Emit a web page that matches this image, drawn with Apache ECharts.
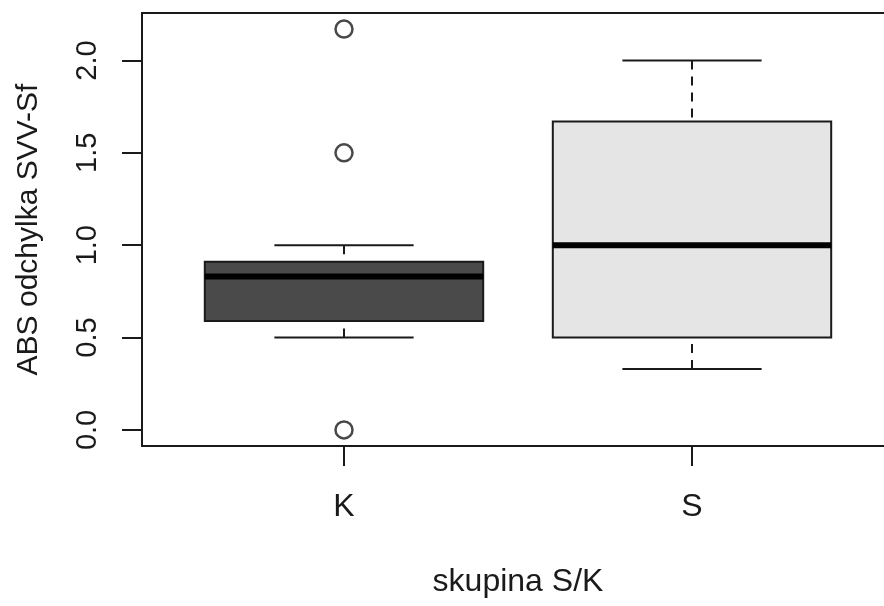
<!DOCTYPE html>
<html>
<head>
<meta charset="utf-8">
<script src="https://cdn.jsdelivr.net/npm/echarts@6/dist/echarts.min.js"></script>
<style>
  html, body { margin: 0; padding: 0; background: #fff; }
  #chart { width: 884px; height: 606px; }
</style>
</head>
<body>
<div id="chart"></div>
<script>
// groups and five-number summaries
const categories = ["K", "S"];
const lowWhisker = [0.5, 0.33];
const q1 = [0.59, 0.5];
const median = [0.83, 1.0];
const q3 = [0.91, 1.67];
const highWhisker = [1.0, 2.0];

// outlying points
const outlierGroup = ["K", "K", "K"];
const outlierValues = [2.17, 1.5, 0.0];

// y tick labels
const yTicks = [0, 0.5, 1, 1.5, 2];

const boxFills = ["#4a4a4a", "#e5e5e5"];
const ink = "#1a1a1a";
const font = "'Liberation Sans', Arial, Helvetica, sans-serif";

const chart = echarts.init(document.getElementById("chart"));

const boxData = categories.map((c, i) => [
  i, lowWhisker[i], q1[i], median[i], q3[i], highWhisker[i],
]);
const outlierData = outlierGroup.map((g, i) => [g, outlierValues[i]]);

chart.setOption({
  animation: false,
  backgroundColor: "#fff",
  grid: [
    {
      // data area
      left: 170,
      right: 18,
      top: 13,
      bottom: 160,
      outerBoundsMode: "none",
    },
    {
      // plot frame (right side runs off the picture)
      left: 142,
      right: -12,
      top: 13,
      bottom: 160,
      show: true,
      borderColor: ink,
      borderWidth: 2,
      backgroundColor: "transparent",
      outerBoundsMode: "none",
    },
  ],
  xAxis: {
    type: "category",
    gridIndex: 0,
    data: categories,
    boundaryGap: true,
    axisLine: { show: false, onZero: false },
    axisTick: {
      show: true,
      alignWithLabel: true,
      length: 20,
      lineStyle: { color: ink, width: 2 },
    },
    axisLabel: { color: ink, fontSize: 32, fontFamily: font, margin: 45 },
    name: "skupina S/K",
    nameLocation: "middle",
    nameGap: 120,
    nameTextStyle: { color: ink, fontSize: 32, fontFamily: font },
    splitLine: { show: false },
  },
  yAxis: {
    type: "value",
    gridIndex: 0,
    min: -0.087,
    max: 2.257,
    offset: 28,
    axisLine: { show: false },
    axisTick: {
      show: true,
      length: 20,
      customValues: yTicks,
      lineStyle: { color: ink, width: 2 },
    },
    axisLabel: {
      color: ink,
      fontSize: 29,
      fontFamily: font,
      rotate: 90,
      margin: 40,
      customValues: yTicks,
      formatter: (v) => v.toFixed(1),
    },
    splitLine: { show: false },
    name: "ABS odchylka SVV-Sf",
    nameLocation: "middle",
    nameGap: 98,
    nameTextStyle: { color: ink, fontSize: 30, fontFamily: font },
  },
  series: [
    {
      type: "custom",
      data: boxData,
      encode: { x: 0, y: [1, 2, 3, 4, 5] },
      renderItem: (params, api) => {
        const i = api.value(0);
        const cx = api.coord([i, api.value(3)])[0];
        const bw = api.size([1, 0])[0] * 0.8;
        const half = bw / 2;
        const yLow = api.coord([i, api.value(1)])[1];
        const yQ1 = api.coord([i, api.value(2)])[1];
        const yMed = api.coord([i, api.value(3)])[1];
        const yQ3 = api.coord([i, api.value(4)])[1];
        const yHigh = api.coord([i, api.value(5)])[1];
        const dashed = { stroke: ink, lineWidth: 2, lineDash: [9, 7] };
        const solid = { stroke: ink, lineWidth: 2 };
        return {
          type: "group",
          children: [
            { type: "line", shape: { x1: cx, y1: yHigh, x2: cx, y2: yQ3 }, style: dashed },
            { type: "line", shape: { x1: cx, y1: yLow, x2: cx, y2: yQ1 }, style: dashed },
            { type: "line", shape: { x1: cx - half / 2, y1: yHigh, x2: cx + half / 2, y2: yHigh }, style: solid },
            { type: "line", shape: { x1: cx - half / 2, y1: yLow, x2: cx + half / 2, y2: yLow }, style: solid },
            {
              type: "rect",
              shape: { x: cx - half, y: yQ3, width: bw, height: yQ1 - yQ3 },
              style: { fill: boxFills[i], stroke: ink, lineWidth: 2 },
            },
            { type: "line", shape: { x1: cx - half, y1: yMed, x2: cx + half, y2: yMed }, style: { stroke: "#000", lineWidth: 6 } },
          ],
        };
      },
      z: 3,
    },
    {
      type: "scatter",
      data: outlierData,
      symbol: "circle",
      symbolSize: 17,
      itemStyle: { color: "#fff", borderColor: ink, borderWidth: 2.5 },
      z: 4,
    },
  ],
});
</script>
</body>
</html>
